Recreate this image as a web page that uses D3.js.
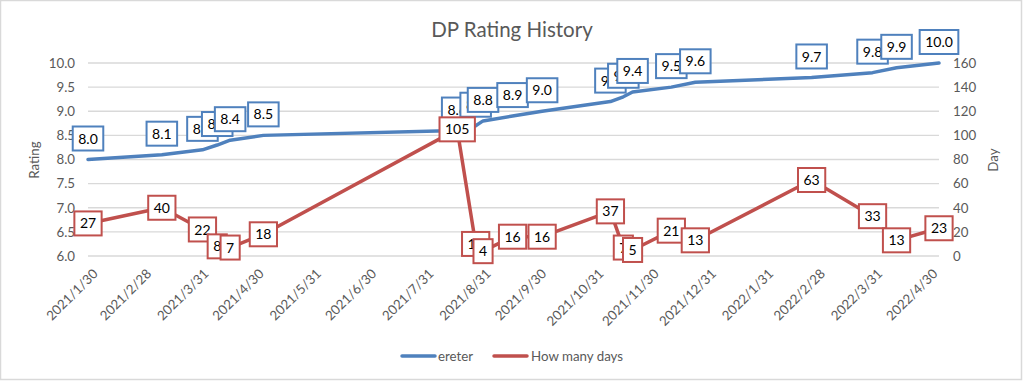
<!DOCTYPE html>
<html>
<head>
<meta charset="utf-8">
<script src="https://cdn.jsdelivr.net/npm/d3@7"></script>
<style>
  html, body { margin: 0; padding: 0; background: #fff; }
  svg { display: block; font-family: Lato, "Open Sans", sans-serif; }
</style>
</head>
<body>
<svg id="chart" width="1024" height="381"></svg>
<script>
// ---- data ----
const dates = ["2021-01-30","2021-03-11","2021-04-02","2021-04-10","2021-04-17","2021-05-05",
  "2021-08-18","2021-08-28","2021-09-01","2021-09-17","2021-10-03","2021-11-09","2021-11-16",
  "2021-11-21","2021-12-12","2021-12-25","2022-02-26","2022-03-31","2022-04-13","2022-05-06"];
const rating = [8.0,8.1,8.2,8.3,8.4,8.5,8.6,8.7,8.8,8.9,9.0,9.2,9.3,9.4,9.5,9.6,9.7,9.8,9.9,10.0];
const days = [27,40,22,8,7,18,105,10,4,16,16,37,7,5,21,13,63,33,13,23];
const xTickLabels = ["2021/1/30","2021/2/28","2021/3/31","2021/4/30","2021/5/31","2021/6/30",
  "2021/7/31","2021/8/31","2021/9/30","2021/10/31","2021/11/30","2021/12/31","2022/1/31",
  "2022/2/28","2022/3/31","2022/4/30"];
const leftTicks = [6.0,6.5,7.0,7.5,8.0,8.5,9.0,9.5,10.0];
const rightTicks = [0,20,40,60,80,100,120,140,160];
const seriesNames = ["ereter","How many days"];
const title = "DP Rating History";

const BLUE = "#4F81BD", RED = "#C0504D", GRAY = "#595959", GRID = "#D9D9D9";

const svg = d3.select("#chart");
const parse = d3.timeParse("%Y-%m-%d");
const parseTick = d3.timeParse("%Y/%m/%d");
const dd = dates.map(parse);

const x = d3.scaleTime().domain([dd[0], dd[dd.length-1]]).range([88, 939]);
const yL = d3.scaleLinear().domain([6, 10]).range([256, 63]);
const yR = d3.scaleLinear().domain([0, 160]).range([256, 63]);

// border
svg.append("rect").attr("x",0.5).attr("y",0.5).attr("width",1021).attr("height",379)
  .attr("fill","#fff").attr("stroke","#D9D9D9").attr("stroke-width",1.5);

// title
svg.append("text").attr("x",512).attr("y",37).attr("text-anchor","middle")
  .attr("fill",GRAY).style("font-size","20.5px").text(title);

// gridlines
svg.append("g").selectAll("line").data(leftTicks).join("line")
  .attr("x1",88).attr("x2",939).attr("y1",d=>yL(d)).attr("y2",d=>yL(d))
  .attr("stroke",GRID).attr("stroke-width",1.3);

// left axis
const gl = svg.append("g").attr("transform","translate(88,0)")
  .call(d3.axisLeft(yL).tickValues(leftTicks).tickFormat(d3.format(".1f")).tickSize(0).tickPadding(13));
gl.select(".domain").remove();
gl.selectAll("text").attr("fill",GRAY).style("font-size","13.3px").style("font-family","Lato");

// right axis
const gr = svg.append("g").attr("transform","translate(939,0)")
  .call(d3.axisRight(yR).tickValues(rightTicks).tickSize(0).tickPadding(14));
gr.select(".domain").remove();
gr.selectAll("text").attr("fill",GRAY).style("font-size","13.3px").style("font-family","Lato");

// x tick labels
svg.append("g").selectAll("text").data(xTickLabels).join("text")
  .attr("transform", d => `translate(${x(parseTick(d))+4},268) rotate(-45)`)
  .attr("text-anchor","end").attr("dy","0.7em")
  .attr("fill",GRAY).style("font-size","13.3px").text(d=>d);

// axis titles
svg.append("text").attr("transform","translate(39,160) rotate(-90)").attr("text-anchor","middle")
  .attr("fill",GRAY).style("font-size","13.3px").text("Rating");
svg.append("text").attr("transform","translate(998,160) rotate(-90)").attr("text-anchor","middle")
  .attr("fill",GRAY).style("font-size","13.3px").text("Day");

// lines
const lineL = d3.line().x((d,i)=>x(dd[i])).y(d=>yL(d));
const lineR = d3.line().x((d,i)=>x(dd[i])).y(d=>yR(d));
svg.append("path").datum(rating).attr("d",lineL).attr("fill","none")
  .attr("stroke",BLUE).attr("stroke-width",3.5).attr("stroke-linejoin","round").attr("stroke-linecap","round");
svg.append("path").datum(days).attr("d",lineR).attr("fill","none")
  .attr("stroke",RED).attr("stroke-width",3.5).attr("stroke-linejoin","round").attr("stroke-linecap","round");

// data labels
function labels(values, yScale, color, fmt, above) {
  const g = svg.append("g");
  values.forEach((v,i) => {
    const cx = x(dd[i]);
    const cy = above ? yScale(v) - 9 - 12 : yScale(v);
    const lg = g.append("g");
    const r = lg.append("rect");
    const t = lg.append("text").attr("x",cx).attr("y",cy).attr("dy","0.36em")
      .attr("text-anchor","middle").attr("fill","#000").style("font-size","14px").text(fmt(v));
    const w = t.node().getComputedTextLength() + 11;
    r.attr("x",cx-w/2).attr("y",cy-12).attr("width",w).attr("height",24)
      .attr("fill","#fff").attr("stroke",color).attr("stroke-width",2);
  });
}
labels(rating, yL, BLUE, d3.format(".1f"), true);
labels(days, yR, RED, d=>String(d), false);

// legend
const lg = svg.append("g");
lg.append("line").attr("x1",402).attr("x2",435).attr("y1",356).attr("y2",356)
  .attr("stroke",BLUE).attr("stroke-width",3.5).attr("stroke-linecap","round");
lg.append("text").attr("x",438).attr("y",356).attr("dy","0.36em").attr("fill",GRAY)
  .style("font-size","13.3px").text(seriesNames[0]);
lg.append("line").attr("x1",494).attr("x2",527).attr("y1",356).attr("y2",356)
  .attr("stroke",RED).attr("stroke-width",3.5).attr("stroke-linecap","round");
lg.append("text").attr("x",531).attr("y",356).attr("dy","0.36em").attr("fill",GRAY)
  .style("font-size","13.3px").text(seriesNames[1]);
</script>
</body>
</html>
